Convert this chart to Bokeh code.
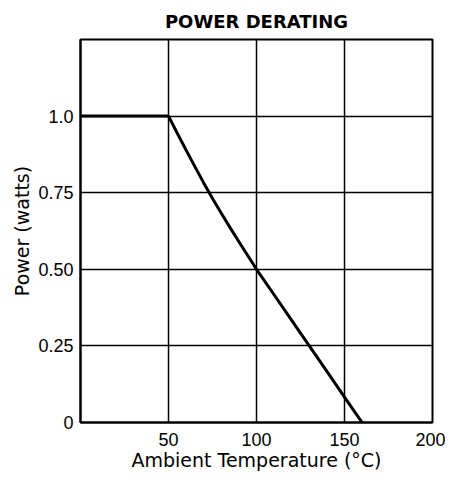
from bokeh.plotting import figure
from bokeh.models import FixedTicker, Range1d
from bokeh.embed import file_html
from bokeh.resources import INLINE

# Data
temperature_c = [0, 50, 55, 60, 65, 70, 75, 80, 85, 90, 95, 100, 110, 120, 130, 140, 150, 160]
power_watts = [1.0, 1.0, 0.944, 0.889, 0.835, 0.782, 0.731, 0.683, 0.636, 0.59, 0.545,
               0.5, 0.417, 0.333, 0.25, 0.167, 0.083, 0.0]

x_ticks = [50, 100, 150, 200]
y_ticks = [0, 0.25, 0.5, 0.75, 1.0]
y_tick_labels = ["0", "0.25", "0.50", "0.75", "1.0"]

FONT = "DejaVu Sans"
TICK_FONT = "Liberation Sans"

p = figure(width=445, height=475, output_backend="svg", toolbar_location=None,
           x_range=Range1d(0, 200), y_range=Range1d(0, 1.25),
           min_border_left=80, min_border_right=13, min_border_top=38, min_border_bottom=53,
           title="POWER DERATING")

p.title.align = "center"
p.title.text_font = FONT
p.title.text_font_size = "18px"
p.title.text_font_style = "bold"
p.title.text_color = "black"
p.title.standoff = 16

p.background_fill_color = "white"
p.border_fill_color = "white"
p.outline_line_color = "black"
p.outline_line_width = 2

p.line(temperature_c, power_watts, line_color="black", line_width=3)

p.xaxis.ticker = FixedTicker(ticks=x_ticks)
p.yaxis.ticker = FixedTicker(ticks=y_ticks)
p.yaxis.major_label_overrides = {t: l for t, l in zip(y_ticks, y_tick_labels)}

for ax in (p.xaxis, p.yaxis):
    ax.axis_line_color = "black"
    ax.axis_line_width = 2
    ax.major_tick_out = 0
    ax.major_tick_in = 0
    ax.minor_tick_out = 0
    ax.minor_tick_in = 0
    ax.major_label_text_font = TICK_FONT
    ax.major_label_text_font_size = "18px"
    ax.major_label_text_color = "black"
    ax.axis_label_text_font = FONT
    ax.axis_label_text_font_size = "19px"
    ax.axis_label_text_font_style = "normal"
    ax.axis_label_text_color = "black"

p.xaxis.axis_label = "Ambient Temperature (°C)"
p.yaxis.axis_label = "Power (watts)"
p.xaxis.major_label_standoff = 10
p.yaxis.major_label_standoff = 7
p.xaxis.axis_label_standoff = 0
p.yaxis.axis_label_standoff = 2

p.xgrid.ticker = FixedTicker(ticks=x_ticks)
p.ygrid.ticker = FixedTicker(ticks=y_ticks)
for g in (p.xgrid, p.ygrid):
    g.grid_line_color = "black"
    g.grid_line_width = 1.5
    g.grid_line_alpha = 1.0

open("out.html", "w").write(file_html(p, INLINE))
